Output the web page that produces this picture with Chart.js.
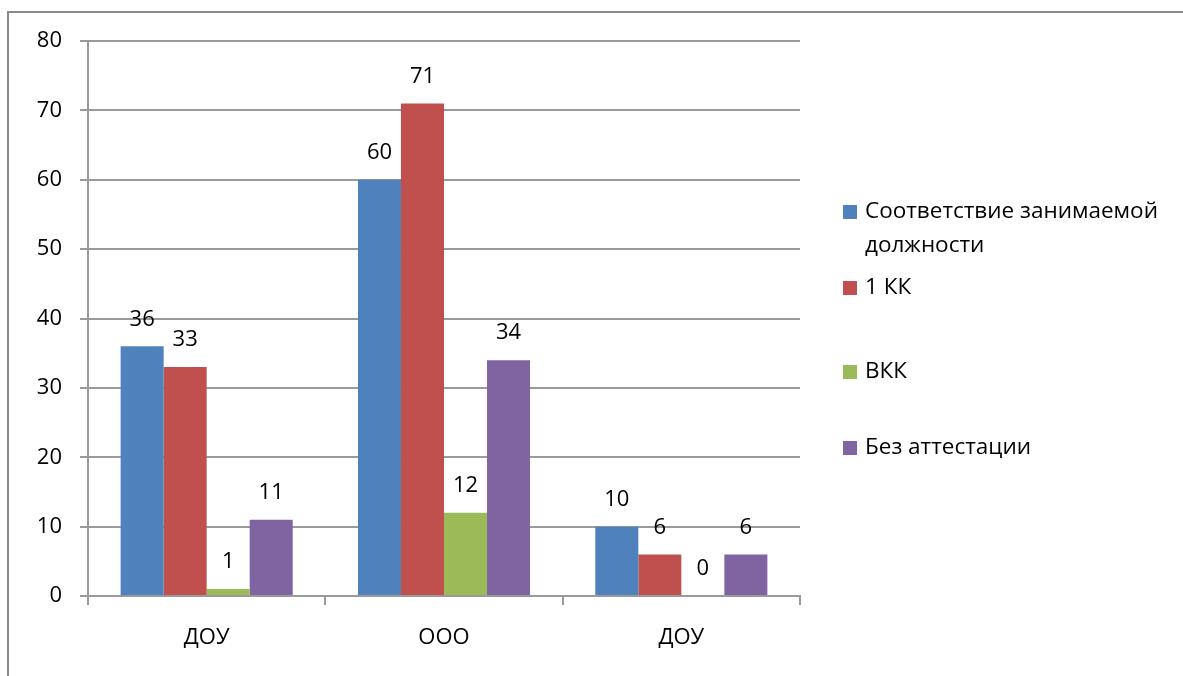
<!DOCTYPE html>
<html>
<head>
<meta charset="utf-8">
<script src="https://cdn.jsdelivr.net/npm/chart.js@4"></script>
<style>
  html, body { margin: 0; padding: 0; background: #fff; }
  #wrap { position: relative; width: 1183px; height: 676px; }
</style>
</head>
<body>
<div id="wrap"><canvas id="attChart" width="1183" height="676"></canvas></div>
<script>
// data
const categories = ['ДОУ', 'ООО', 'ДОУ'];
const seriesNames = [['Соответствие занимаемой', 'должности'], ['1 КК'], ['ВКК'], ['Без аттестации']];
const fitPost = [36, 60, 10];
const firstCat = [33, 71, 6];
const highCat = [1, 12, 0];
const noAtt = [11, 34, 6];
const yTicks = [0, 10, 20, 30, 40, 50, 60, 70, 80];

const colors = ['#4F81BD', '#C0504D', '#9BBB59', '#8064A2'];
const FONT = '"Open Sans", "Noto Sans", sans-serif';
const gridColor = '#9a9a9a';

// value labels above each bar
const valueLabels = {
    id: 'valueLabels',
    afterDatasetsDraw(chart) {
        const ctx = chart.ctx;
        ctx.save();
        ctx.font = '22px ' + FONT;
        ctx.fillStyle = '#000';
        ctx.textAlign = 'center';
        ctx.textBaseline = 'middle';
        chart.data.datasets.forEach((ds, i) => {
            chart.getDatasetMeta(i).data.forEach((bar, j) => {
                ctx.fillText(ds.data[j], bar.x, bar.y - 27);
            });
        });
        ctx.restore();
    }
};

// frame + legend on the right, like the office chart
const sideLegend = {
    id: 'sideLegend',
    afterDraw(chart) {
        const ctx = chart.ctx;
        ctx.save();
        ctx.strokeStyle = '#8a8a8a';
        ctx.lineWidth = 2;
        ctx.beginPath();
        ctx.moveTo(8, 676);
        ctx.lineTo(8, 12);
        ctx.lineTo(1183, 12);
        ctx.stroke();

        const ys = [212, 288, 372, 448];
        ctx.font = '22.5px ' + FONT;
        ctx.textBaseline = 'middle';
        ctx.textAlign = 'left';
        seriesNames.forEach((lines, i) => {
            ctx.fillStyle = colors[i];
            ctx.fillRect(843, ys[i] - 7, 14, 14);
            ctx.fillStyle = '#000';
            lines.forEach((t, k) => ctx.fillText(t, 865, ys[i] + k * 34));
        });
        ctx.restore();
    }
};

const attChart = document.getElementById('attChart');
new Chart(attChart, {
    type: 'bar',
    data: {
        labels: categories,
        datasets: [fitPost, firstCat, highCat, noAtt].map((d, i) => ({
            label: seriesNames[i].join(' '),
            data: d,
            backgroundColor: colors[i],
            borderWidth: 0,
            categoryPercentage: 0.725,
            barPercentage: 1
        }))
    },
    options: {
        responsive: false,
        animation: false,
        layout: { padding: { top: 41, right: 383, left: 0, bottom: 0 } },
        scales: {
            y: {
                min: 0,
                max: 80,
                afterFit: s => { s.width = 88; },
                afterBuildTicks: s => { s.ticks = yTicks.map(v => ({ value: v })); },
                ticks: { color: '#000', padding: 18, font: { family: FONT, size: 22 } },
                grid: { color: gridColor, lineWidth: 2, tickLength: 8, tickColor: gridColor },
                border: { color: gridColor, width: 2 }
            },
            x: {
                afterFit: s => { s.height = 80; },
                ticks: { color: '#000', padding: 20, font: { family: FONT, size: 22 } },
                grid: { drawOnChartArea: false, tickLength: 9, color: gridColor, lineWidth: 2 },
                border: { color: gridColor, width: 2 }
            }
        },
        plugins: {
            legend: { display: false },
            tooltip: { enabled: false }
        }
    },
    plugins: [valueLabels, sideLegend]
});
</script>
</body>
</html>
